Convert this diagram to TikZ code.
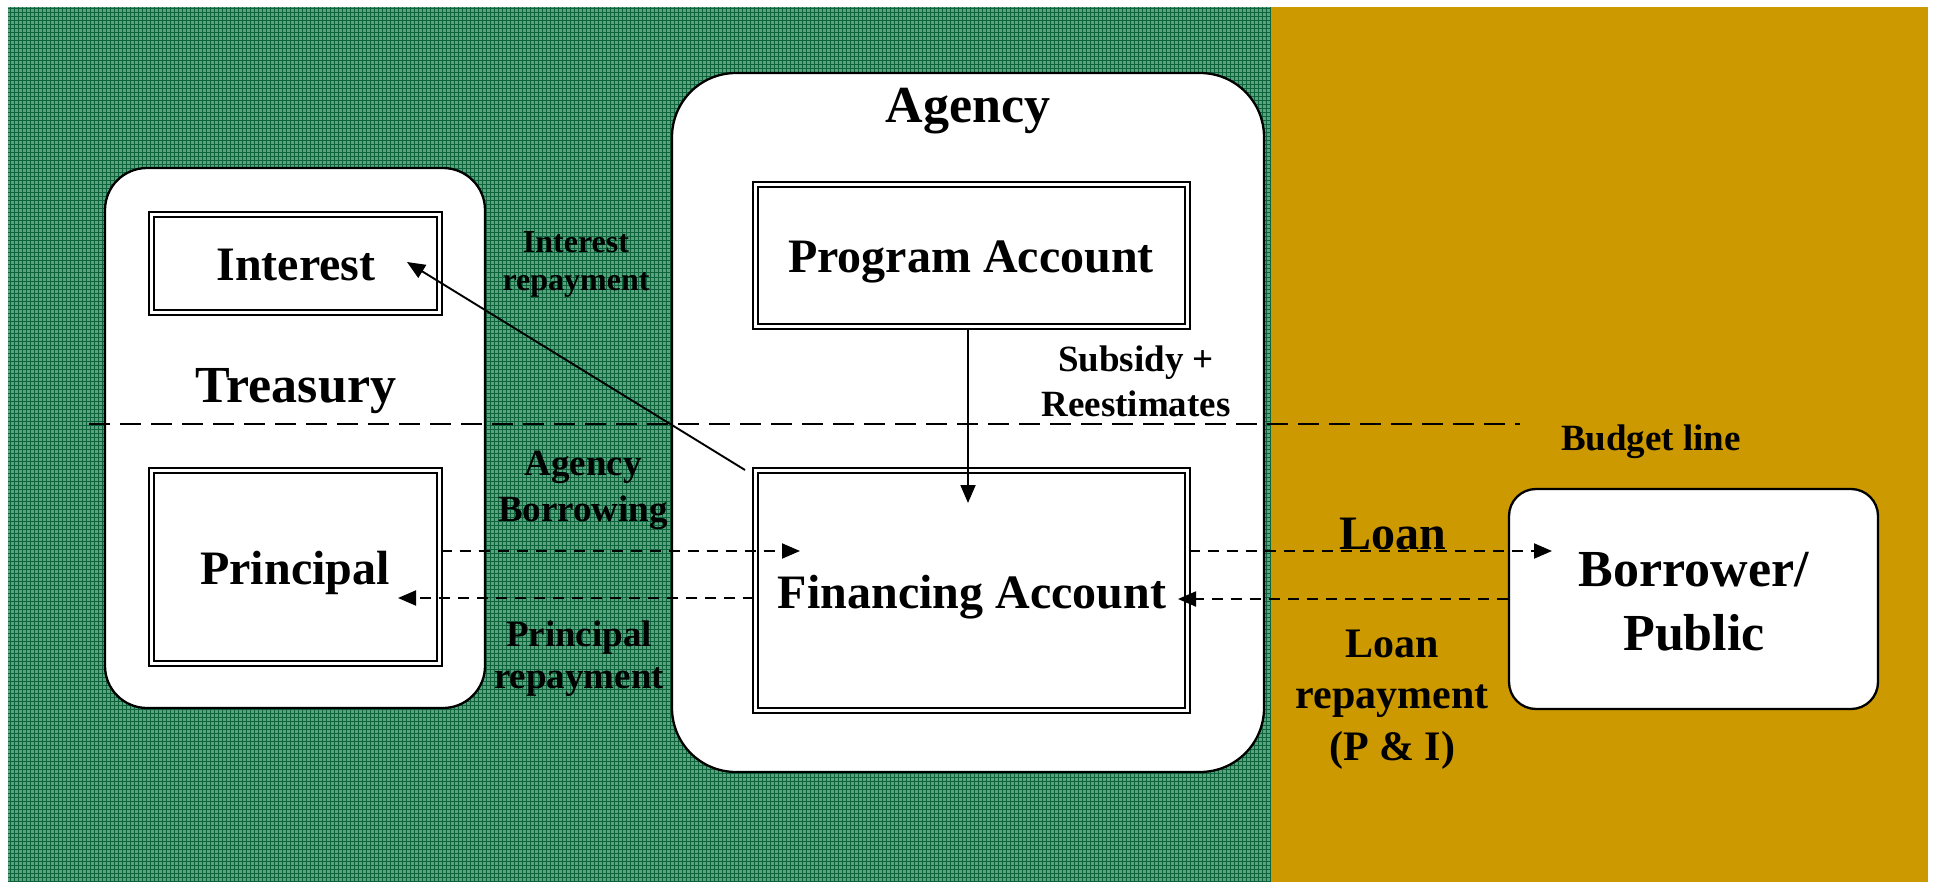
\documentclass[tikz,border=0pt]{standalone}
\usepackage{fontspec}
\setmainfont{Liberation Serif}
\usetikzlibrary{arrows.meta,fit}
\definecolor{gold}{RGB}{204,153,0}
\definecolor{gbase}{RGB}{92,162,124}
\definecolor{gline}{RGB}{12,100,60}
\begin{document}
\begin{tikzpicture}[x=0.5pt,y=-0.5pt,
  rbox/.style={draw=black,line width=1.15pt,fill=white,inner sep=0pt},
  dbox/.style={draw=black,line width=1.25pt,double=white,double distance=1.15pt,fill=white,inner sep=0pt},
  conn/.style={line width=0.95pt,-{Triangle[length=9pt,width=7.5pt]}},
  dconn/.style={conn,dash pattern=on 5.5pt off 4pt},
  budget/.style={line width=1.1pt,dash pattern=on 10.5pt off 5pt},
  gridline/.style={gline,line width=0.5pt},
  tbig/.style={font=\bfseries\fontsize{24pt}{28pt}\selectfont,inner sep=0pt,anchor=base},
  thuge/.style={font=\bfseries\fontsize{26pt}{30pt}\selectfont,inner sep=0pt,anchor=base},
  tmid/.style={font=\bfseries\fontsize{18.5pt}{22pt}\selectfont,inner sep=0pt,anchor=base},
  tloan/.style={font=\bfseries\fontsize{21pt}{25pt}\selectfont,inner sep=0pt,anchor=base},
  tsmall/.style={font=\bfseries\fontsize{16pt}{19pt}\selectfont,inner sep=0pt,anchor=base}
]
\useasboundingbox (0,0) rectangle (1937,882);
\fill[white] (0,0) rectangle (1937,882);
% green patterned region
\fill[gbase] (8,7) rectangle (1271,882);
\begin{scope}
  \clip (8,7) rectangle (1271,882);
  \foreach \x in {10,14,...,1270} \draw[gridline] (\x,7) -- (\x,882);
  \foreach \y in {9,13,...,881} \draw[gridline] (8,\y) -- (1271,\y);
\end{scope}
% gold region
\fill[gold] (1271,7) rectangle (1928,882);

% rounded containers
\node[rbox,rounded corners=21pt,fit={(105,168) (485,708)}] (treasury) {};
\node[rbox,rounded corners=32pt,fit={(672,73) (1264,772)}] (agency) {};
\node[rbox,rounded corners=13.5pt,fit={(1509,489) (1878,709)}] (borrower) {};

% budget line
\coordinate (bl1) at (89,424);
\coordinate (bl2) at (1520,424);
\draw[budget] (bl1) -- (bl2);

% double-bordered accounts
\node[dbox,fit={(151.6,214.6) (439.4,312.4)}] (interest) {};
\node[dbox,fit={(151.6,470.6) (439.4,663.4)}] (principal) {};
\node[dbox,fit={(755.6,184.6) (1187.4,326.4)}] (program) {};
\node[dbox,fit={(755.6,470.6) (1187.4,710.4)}] (financing) {};

% texts
\node[tbig] (tinterest) at (296,280) {Interest};
\node[thuge] (ttreasury) at (296,402) {Treasury};
\node[tbig] (tprincipal) at (295,584) {Principal};
\node[thuge] (tagency) at (968,123) {Agency};
\node[tbig] (tprogram) at (971,272) {Program Account};
\node[tbig] (tfinancing) at (972,608) {Financing Account};
\node[thuge] (tborrower1) at (1694,586) {Borrower/};
\node[thuge] (tborrower2) at (1694,650) {Public};

% connectors
\coordinate (irs) at (745,470);
\coordinate (ire) at (407,262);
\draw[conn] (irs) -- (ire);
\coordinate (sube) at (968,503);
\draw[conn] (program.south -| sube) -- (sube);
\coordinate (abe) at (800,551);
\draw[dconn] (principal.east |- abe) -- (abe);
\coordinate (pre) at (398,598);
\draw[dconn] (financing.west |- pre) -- (pre);
\coordinate (lne) at (1552,551);
\draw[dconn] (financing.east |- lne) -- (lne);
\coordinate (lre) at (1178,599);
\draw[dconn] (borrower.west |- lre) -- (lre);

% connector labels
\node[tsmall] (lir1) at (576,253) {Interest};
\node[tsmall] (lir2) at (576,291) {repayment};
\node[tmid] (lab1) at (583,475) {Agency};
\node[tmid] (lab2) at (583,521) {Borrowing};
\node[tmid] (lpr1) at (579,646) {Principal};
\node[tmid] (lpr2) at (579,688) {repayment};
\node[tmid] (lsub1) at (1136,371) {Subsidy +};
\node[tmid] (lsub2) at (1136,416) {Reestimates};
\node[tmid] (lbudget) at (1651,450) {Budget line};
\node[tbig] (lloan) at (1393,549) {Loan};
\node[tloan] (llr1) at (1392,657) {Loan};
\node[tloan] (llr2) at (1392,708) {repayment};
\node[tloan] (llr3) at (1392,760) {(P \& I)};
\end{tikzpicture}
\end{document}
